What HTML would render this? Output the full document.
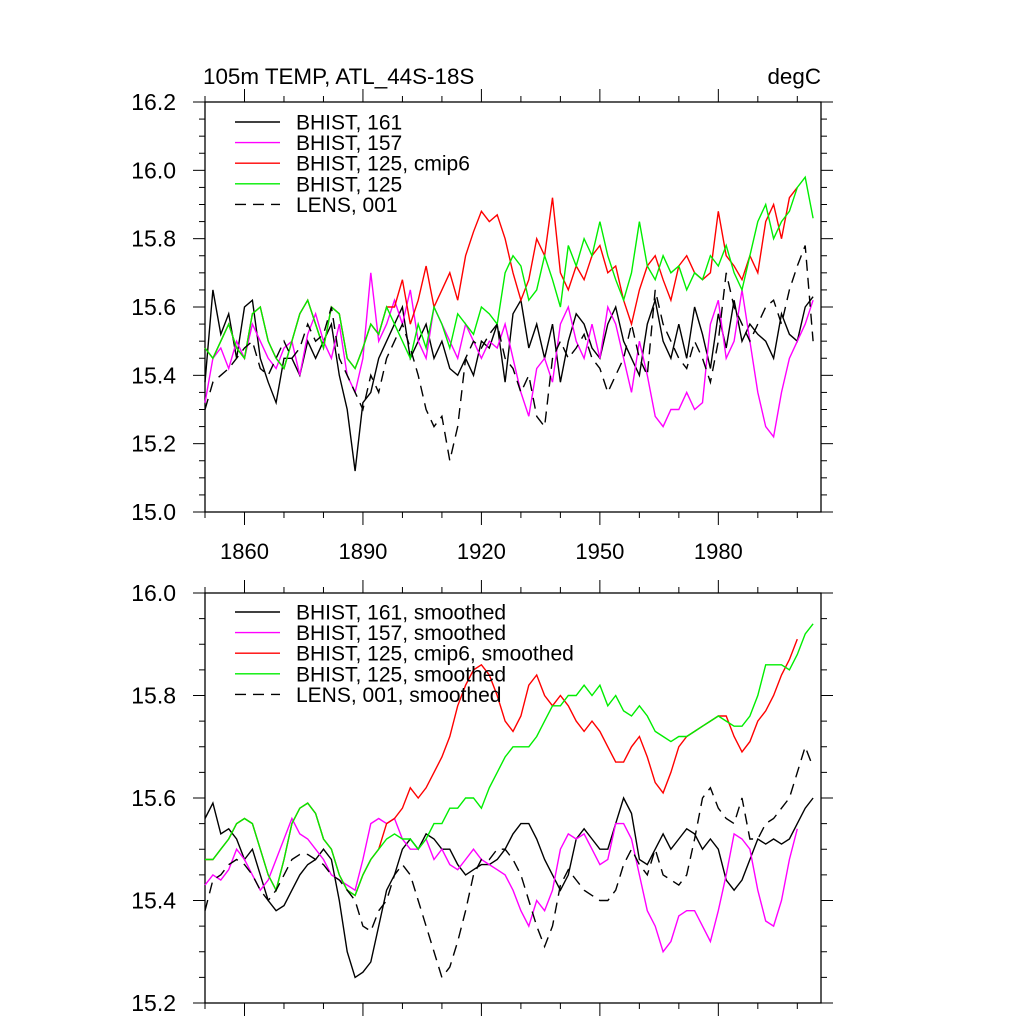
<!DOCTYPE html>
<html><head><meta charset="utf-8"><style>
html,body{margin:0;padding:0;background:#fff;}
svg{display:block;font-family:"Liberation Sans",Arial,sans-serif;}
</style></head><body>
<svg id="chart" width="1024" height="1024" viewBox="0 0 1024 1024" xmlns="http://www.w3.org/2000/svg">
<rect width="1024" height="1024" fill="#fff"/>
<text x="203" y="84" font-size="22.4">105m TEMP, ATL_44S-18S</text>
<text x="821" y="84" font-size="22.4" text-anchor="end">degC</text>
</svg>
<script>
const startYear = 1850;
const stepYears = 2;
const xTickLabels = ["1860","1890","1920","1950","1980"];
const topYTicks = ["15.0","15.2","15.4","15.6","15.8","16.0","16.2"];
const botYTicks = ["15.2","15.4","15.6","15.8","16.0"];
const topLegend = ["BHIST, 161","BHIST, 157","BHIST, 125, cmip6","BHIST, 125","LENS, 001"];
const botLegend = ["BHIST, 161, smoothed","BHIST, 157, smoothed","BHIST, 125, cmip6, smoothed","BHIST, 125, smoothed","LENS, 001, smoothed"];

const top161 = [15.38,15.65,15.52,15.58,15.45, 15.6,15.62,15.45,15.38,15.32, 15.45,15.45,15.4,15.5,15.45, 15.5,15.55,15.4,15.3,15.12, 15.32,15.35,15.45,15.5,15.55, 15.6,15.45,15.5,15.55,15.45, 15.5,15.42,15.4,15.45,15.4, 15.5,15.48,15.55,15.38,15.58, 15.62,15.48,15.55,15.45,15.55, 15.38,15.5,15.58,15.55,15.48, 15.45,15.55,15.6,15.5,15.45, 15.4,15.55,15.62,15.5,15.45, 15.55,15.45,15.6,15.52,15.42, 15.58,15.48,15.62,15.5,15.55, 15.52,15.5,15.45,15.58,15.52, 15.5,15.6,15.63];
const top157 = [15.32,15.45,15.48,15.42,15.5, 15.45,15.55,15.5,15.45,15.42, 15.48,15.5,15.4,15.52,15.58, 15.5,15.45,15.55,15.4,15.35, 15.45,15.7,15.5,15.55,15.62, 15.55,15.65,15.5,15.45,15.6, 15.55,15.5,15.45,15.55,15.5, 15.45,15.5,15.48,15.55,15.45, 15.35,15.28,15.42,15.45,15.38, 15.55,15.6,15.5,15.45,15.55, 15.45,15.6,15.55,15.45,15.35, 15.5,15.4,15.28,15.25,15.3, 15.3,15.35,15.3,15.32,15.55, 15.62,15.45,15.5,15.65,15.5, 15.35,15.25,15.22,15.35,15.45, 15.5,15.55,15.62];
const top125c = [15.48,15.45,15.5,15.55,15.48, 15.45,15.58,15.6,15.5,15.45, 15.42,15.5,15.58,15.62,15.55, 15.48,15.6,15.58,15.45,15.42, 15.48,15.55,15.52,15.6,15.6, 15.68,15.55,15.62,15.72,15.6, 15.65,15.7,15.62,15.75,15.82, 15.88,15.85,15.87,15.8,15.7, 15.62,15.68,15.8,15.75,15.92, 15.7,15.65,15.72,15.68,15.75, 15.78,15.7,15.72,15.62,15.55, 15.65,15.72,15.75,15.68,15.62, 15.72,15.75,15.7,15.68,15.7, 15.88,15.75,15.72,15.68,15.75, 15.7,15.85,15.9,15.8,15.92, 15.95,null,null];
const top125 = [15.48,15.45,15.5,15.55,15.48, 15.45,15.58,15.6,15.5,15.45, 15.42,15.5,15.58,15.62,15.55, 15.48,15.6,15.58,15.45,15.42, 15.48,15.55,15.52,15.6,15.55, 15.5,15.45,15.55,15.48,15.6, 15.55,15.48,15.58,15.55,15.52, 15.6,15.58,15.55,15.7,15.75, 15.72,15.62,15.65,15.75,15.68, 15.6,15.78,15.72,15.8,15.75, 15.85,15.75,15.68,15.62,15.7, 15.85,15.72,15.68,15.75,15.7, 15.72,15.65,15.7,15.68,15.75, 15.72,15.78,15.7,15.65,15.75, 15.85,15.9,15.8,15.85,15.88, 15.95,15.98,15.86];
const topLens = [15.3,15.38,15.4,15.42,15.45, 15.48,15.5,15.42,15.4,15.45, 15.5,15.45,15.48,15.55,15.5, 15.52,15.6,15.45,15.4,15.35, 15.3,15.4,15.35,15.45,15.5, 15.55,15.48,15.4,15.3,15.25, 15.28,15.15,15.25,15.45,15.5, 15.48,15.52,15.55,15.45,15.42, 15.35,15.4,15.28,15.25,15.45, 15.5,15.45,15.48,15.52,15.45, 15.42,15.35,15.4,15.45,15.55, 15.45,15.4,15.65,15.55,15.5, 15.45,15.42,15.5,15.45,15.38, 15.5,15.7,15.6,15.55,15.5, 15.55,15.6,15.62,15.55,15.65, 15.72,15.78,15.5];

const bot161 = [15.56,15.59,15.53,15.54,15.52, 15.48,15.5,15.45,15.4,15.38, 15.39,15.42,15.45,15.47,15.48, 15.5,15.48,15.4,15.3,15.25, 15.26,15.28,15.35,15.42,15.45, 15.5,15.52,15.5,15.53,15.52, 15.5,15.5,15.47,15.45,15.46, 15.47,15.47,15.48,15.5,15.53, 15.55,15.55,15.52,15.48,15.45, 15.42,15.45,15.52,15.54,15.52, 15.5,15.5,15.55,15.6,15.57, 15.48,15.47,15.5,15.53,15.5, 15.52,15.54,15.53,15.5,15.52, 15.5,15.44,15.42,15.44,15.48, 15.52,15.51,15.52,15.51,15.52, 15.55,15.58,15.6];
const bot157 = [15.43,15.45,15.44,15.46,15.5, 15.48,15.45,15.42,15.44,15.48, 15.52,15.56,15.53,15.52,15.5, 15.48,15.45,15.44,15.43,15.42, 15.48,15.55,15.56,15.55,15.56, 15.52,15.5,15.5,15.52,15.48, 15.5,15.47,15.46,15.48,15.5, 15.48,15.47,15.46,15.45,15.42, 15.38,15.35,15.4,15.38,15.42, 15.5,15.53,15.52,15.53,15.5, 15.47,15.48,15.55,15.55,15.52, 15.45,15.38,15.35,15.3,15.32, 15.37,15.38,15.38,15.35,15.32, 15.38,15.45,15.53,15.52,15.5, 15.42,15.36,15.35,15.4,15.48, 15.54,null,null];
const bot125c = [15.48,15.48,15.5,15.52,15.55, 15.56,15.55,15.5,15.45,15.42, 15.48,15.55,15.58,15.59,15.57, 15.52,15.5,15.45,15.42,15.41, 15.45,15.48,15.5,15.55,15.56, 15.58,15.62,15.6,15.62,15.65, 15.68,15.72,15.78,15.82,15.85, 15.86,15.84,15.8,15.75,15.73, 15.76,15.82,15.84,15.8,15.78, 15.8,15.78,15.75,15.73,15.75, 15.73,15.7,15.67,15.67,15.7, 15.72,15.68,15.63,15.61,15.65, 15.7,15.72,15.73,15.74,15.75, 15.76,15.76,15.72,15.69,15.71, 15.75,15.77,15.8,15.84,15.87, 15.91,null,null];
const bot125 = [15.48,15.48,15.5,15.52,15.55, 15.56,15.55,15.5,15.45,15.42, 15.48,15.55,15.58,15.59,15.57, 15.52,15.5,15.45,15.42,15.41, 15.45,15.48,15.5,15.52,15.53, 15.52,15.52,15.5,15.52,15.55, 15.55,15.58,15.58,15.6,15.6, 15.58,15.62,15.65,15.68,15.7, 15.7,15.7,15.72,15.75,15.78, 15.78,15.8,15.8,15.82,15.8, 15.82,15.78,15.8,15.77,15.76, 15.78,15.76,15.73,15.72,15.71, 15.72,15.72,15.73,15.74,15.75, 15.76,15.75,15.74,15.74,15.76, 15.8,15.86,15.86,15.86,15.85, 15.88,15.92,15.94];
const botLens = [15.38,15.44,15.45,15.47,15.48, 15.47,15.45,15.42,15.4,15.42, 15.45,15.48,15.49,15.49,15.48, 15.47,15.45,15.44,15.42,15.4, 15.35,15.34,15.38,15.4,15.45, 15.47,15.45,15.4,15.35,15.3, 15.25,15.27,15.32,15.38,15.45, 15.48,15.48,15.5,15.5,15.48, 15.45,15.4,15.35,15.31,15.35, 15.43,15.46,15.44,15.42,15.41, 15.4,15.4,15.42,15.47,15.5, 15.47,15.45,15.5,15.45,15.44, 15.43,15.45,15.52,15.6,15.62, 15.58,15.56,15.55,15.6,15.52, 15.52,15.55,15.56,15.58,15.6, 15.65,15.7,15.66];

const NS = "http://www.w3.org/2000/svg";
const svg = document.getElementById("chart");
function mk(tag, attrs, parent){const e=document.createElementNS(NS,tag);for(const k in attrs)e.setAttribute(k,attrs[k]);(parent||svg).appendChild(e);return e;}

const X0=205, X1=821, YR0=1850, YR1=2006;
function xScale(yr){return X0+(yr-YR0)*(X1-X0)/(YR1-YR0);}

const colors=["#000","#ff00ff","#ff0000","#00ee00","#000"];
const dashes=[null,null,null,null,"11,7"];

function panel(name, yTop, yBot, vMin, vMax, yTicks, series, legend, legY){
  const ys=v=>yBot-(v-vMin)*(yBot-yTop)/(vMax-vMin);
  const g=mk("g",{});
  
  
  const frame=mk("rect",{x:X0,y:yTop,width:X1-X0,height:yBot-yTop,fill:"none",stroke:"#000","stroke-width":1.3},g);
  
  
  for(let v=vMin; v<=vMax+1e-9; v+=0.05){
    const isMaj=Math.abs(Math.round(v*10)/10-v)<1e-6 && Math.round(v*10)%2===0;
    const L=isMaj?12:6, y=ys(v);
    mk("line",{x1:X0-L,x2:X0,y1:y,y2:y,stroke:"#000","stroke-width":1},g);
    mk("line",{x1:X1,x2:X1+L,y1:y,y2:y,stroke:"#000","stroke-width":1},g);
  }
  yTicks.forEach(t=>{
    const tx=mk("text",{x:176,y:ys(parseFloat(t))+8,"font-size":23,"text-anchor":"end"},g);
    
    
    tx.textContent=t;
  });
  for(let yr=1850; yr<=2000; yr+=10){
    const isMaj=(yr-1860)%30===0, L=isMaj?13:6, x=xScale(yr);
    mk("line",{x1:x,x2:x,y1:yBot,y2:yBot+L,stroke:"#000","stroke-width":1},g);
    mk("line",{x1:x,x2:x,y1:yTop-L,y2:yTop,stroke:"#000","stroke-width":1},g);
  }
  series.forEach((arr,i)=>{
    let d="", pen=false;
    arr.forEach((v,k)=>{
      if(v===null){pen=false;return;}
      const x=xScale(startYear+k*stepYears), y=ys(v);
      d+=(pen?"L":"M")+x.toFixed(1)+","+y.toFixed(1); pen=true;
    });
    const p=mk("path",{d:d,fill:"none",stroke:colors[i],"stroke-width":1.4},g);
    if(dashes[i]) p.setAttribute("stroke-dasharray",dashes[i]);
    
    
  });
  legend.forEach((lab,i)=>{
    const y=legY+i*20.6;
    const ln=mk("line",{x1:235,x2:280,y1:y,y2:y,stroke:colors[i],"stroke-width":1.4},g);
    if(dashes[i]) ln.setAttribute("stroke-dasharray","11,7");
    
    
    const tx=mk("text",{x:296,y:y+7.5,"font-size":21},g);
    
    
    tx.textContent=lab;
  });
  return g;
}

panel("top-panel",102,512,15.0,16.2,topYTicks,[top161,top157,top125c,top125,topLens],topLegend,122);
panel("bottom-panel",593,1003,15.2,16.0,botYTicks,[bot161,bot157,bot125c,bot125,botLens],botLegend,612);

xTickLabels.forEach(t=>{
  const tx=mk("text",{x:xScale(parseInt(t)),y:559,"font-size":22,"text-anchor":"middle"});
  
  
  tx.textContent=t;
});
</script>
</body></html>
